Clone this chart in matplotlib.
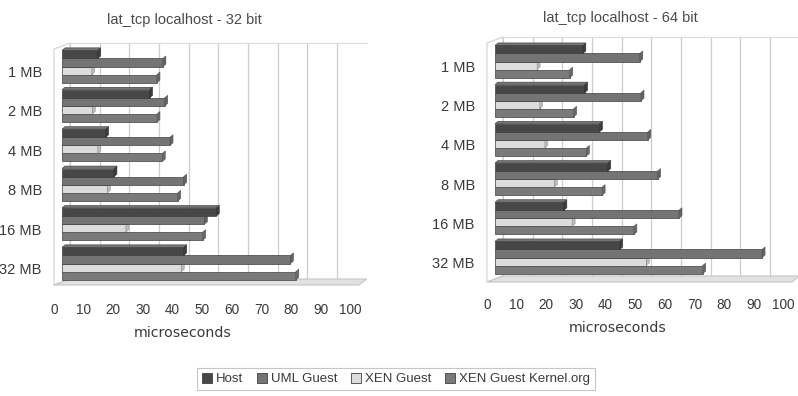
import matplotlib
matplotlib.use("Agg")
import matplotlib.pyplot as plt
import numpy as np
from matplotlib.patches import Polygon, Patch
from matplotlib.transforms import ScaledTranslation

# ---- data -------------------------------------------------------------
sizes_32 = ["1 MB", "2 MB", "4 MB", "8 MB", "16 MB", "32 MB"]
sizes_64 = ["1 MB", "2 MB", "4 MB", "8 MB", "16 MB", "32 MB"]
series_names = ["Host", "UML Guest", "XEN Guest", "XEN Guest Kernel.org"]

host_32 = [12, 29.5, 14.7, 17.5, 52, 41]
uml_32 = [34, 34.6, 36.4, 41, 48, 77]
xen_32 = [10, 10.2, 12, 15.3, 21.5, 40.2]
kernel_32 = [32, 32, 33.8, 39, 47.4, 78.8]

host_64 = [29.6, 30.2, 35.2, 38, 23.2, 42]
uml_64 = [48.8, 49.2, 51.5, 54.8, 62, 90]
xen_64 = [14.2, 15, 16.8, 20, 26, 51]
kernel_64 = [25.2, 26.5, 30.8, 36.1, 46.8, 70]

x_ticks = [0, 10, 20, 30, 40, 50, 60, 70, 80, 90, 100]
x_label = "microseconds"
title_32 = "lat_tcp localhost - 32 bit"
title_64 = "lat_tcp localhost - 64 bit"

# ---- style ------------------------------------------------------------
bar_colors = ["#474747", "#747474", "#dcdcdc", "#7a7a7a"]
edge_dark = "#404040"
grid_col = "#cdcdcd"
text_col = "#3a3a3a"
FONT = "Liberation Sans"

W, H, DPI = 798, 396, 100
fig = plt.figure(figsize=(W / DPI, H / DPI), dpi=DPI)
fig.patch.set_facecolor("white")

XMAX = 100
PX_PER_UNIT = 2.967          # horizontal scale, pixels per microsecond
DEPTH_X, DEPTH_Y = 8, 6      # back-wall offset in pixels
BAR_DX, BAR_DY = 3, 2.5      # bar depth in pixels
BAR_H = 0.205


def shade(hex_col, f):
    c = np.array(matplotlib.colors.to_rgb(hex_col))
    c = np.clip(c * f if f < 1 else c + (1 - c) * (f - 1), 0, 1)
    return c


def panel(x0, top, floor, c0, spacing, labels, series, title, title_xy,
          xlabel_xy, tick_pad):
    width_px = XMAX * PX_PER_UNIT
    ax = fig.add_axes([x0 / W, (H - floor) / H, width_px / W, (floor - top) / H])
    n = len(labels)
    y_bot = (floor - c0) / spacing
    y_top = (top - c0) / spacing
    ax.set_xlim(0, XMAX)
    ax.set_ylim(y_bot, y_top)
    for s in ax.spines.values():
        s.set_visible(False)

    ux = 1.0 / PX_PER_UNIT      # data units per pixel (x)
    uy = 1.0 / spacing          # data units per pixel (y, increases downward)

    # floor slab
    floor_poly = Polygon(
        [(-DEPTH_X * ux, y_bot), (XMAX, y_bot),
         (XMAX + DEPTH_X * ux, y_bot - DEPTH_Y * uy), (DEPTH_X * ux, y_bot - DEPTH_Y * uy)],
        closed=True, facecolor="#e2e2e2", edgecolor="#c4c4c4", lw=0.8,
        clip_on=False, zorder=1)
    ax.add_patch(floor_poly)

    # side wall outline
    side = Polygon(
        [(-DEPTH_X * ux, y_bot), (-DEPTH_X * ux, y_top + DEPTH_Y * uy),
         (DEPTH_X * ux, y_top), (DEPTH_X * ux, y_bot - DEPTH_Y * uy)],
        closed=True, facecolor="none", edgecolor="#d2d2d2", lw=0.8,
        clip_on=False, zorder=0.9)
    ax.add_patch(side)

    # back wall grid
    for t in x_ticks[:-1]:
        ax.plot([t + DEPTH_X * ux] * 2, [y_top, y_bot - DEPTH_Y * uy],
                color=grid_col, lw=0.9, clip_on=False, zorder=0.8)
    ax.plot([DEPTH_X * ux, XMAX + DEPTH_X * ux], [y_top, y_top],
            color="#dcdcdc", lw=0.8, clip_on=False, zorder=0.8)

    # bars, drawn bottom-up within a group so upper bars overlap lower end faces
    k = len(series)
    idx = np.arange(n)
    for j in reversed(range(k)):
        vals = np.asarray(series[j], dtype=float)
        ypos = idx + (j - (k - 1) / 2) * BAR_H
        col = bar_colors[j]
        z = 3 + (k - j)
        ax.barh(ypos, vals, height=BAR_H, color=col, edgecolor=edge_dark,
                linewidth=0.5, zorder=z)
        for v, yc in zip(vals, ypos):
            ya, yb = yc - BAR_H / 2, yc + BAR_H / 2
            end = Polygon([(v, ya), (v + BAR_DX * ux, ya - BAR_DY * uy),
                           (v + BAR_DX * ux, yb - BAR_DY * uy), (v, yb)],
                          closed=True, facecolor=shade(col, 0.85),
                          edgecolor=shade(col, 0.7), lw=0.4, zorder=z, clip_on=False)
            ax.add_patch(end)
            if j == 0:
                topf = Polygon([(0, ya), (v, ya), (v + BAR_DX * ux, ya - BAR_DY * uy),
                                (BAR_DX * ux, ya - BAR_DY * uy)],
                               closed=True, facecolor=shade(col, 1.25),
                               edgecolor=shade(col, 0.8), lw=0.4, zorder=z, clip_on=False)
                ax.add_patch(topf)

    # category labels
    ax.set_yticks(idx + 5 * uy)
    ax.set_yticklabels(labels, fontsize=10.5, family=FONT, color=text_col)
    ax.tick_params(axis="y", length=0, pad=14.5)

    # value axis labels sit on the front edge of the floor
    ax.set_xticks(x_ticks)
    ax.set_xticklabels([str(t) for t in x_ticks], fontsize=9.8, family=FONT,
                       color=text_col)
    ax.tick_params(axis="x", length=0, pad=tick_pad)
    shift = ScaledTranslation(-DEPTH_X / DPI, 0, fig.dpi_scale_trans)
    for lab in ax.get_xticklabels():
        lab.set_transform(lab.get_transform() + shift)

    fig.text(title_xy[0] / W, 1 - title_xy[1] / H, title, ha="center", va="center",
             fontsize=10.5, family=FONT, color="#4a4a4a")
    fig.text(xlabel_xy[0] / W, 1 - xlabel_xy[1] / H, x_label, ha="center",
             va="center", fontsize=10.2, family="DejaVu Sans", color=text_col)
    return ax


panel(62, 43, 285, 66.5, 39.4, sizes_32,
      [host_32, uml_32, xen_32, kernel_32], title_32, (184, 20), (183, 333), 12.8)
panel(495, 37, 282, 61.5, 39.2, sizes_64,
      [host_64, uml_64, xen_64, kernel_64], title_64, (620, 18), (618, 328), 11.6)

handles = [Patch(facecolor=c, edgecolor=edge_dark, linewidth=0.6) for c in bar_colors]
leg = fig.legend(handles, series_names, loc="center",
                 bbox_to_anchor=(396 / W, 1 - 379 / H), ncol=4, frameon=True,
                 fancybox=False, edgecolor="#b8b8b8",
                 prop={"family": FONT, "size": 9.5},
                 handlelength=0.8, handleheight=0.8, handletextpad=0.3,
                 columnspacing=1.0, borderpad=0.35)
leg.get_frame().set_linewidth(0.8)
for t in leg.get_texts():
    t.set_color(text_col)

fig.savefig("out.png", dpi=DPI, facecolor="white")
